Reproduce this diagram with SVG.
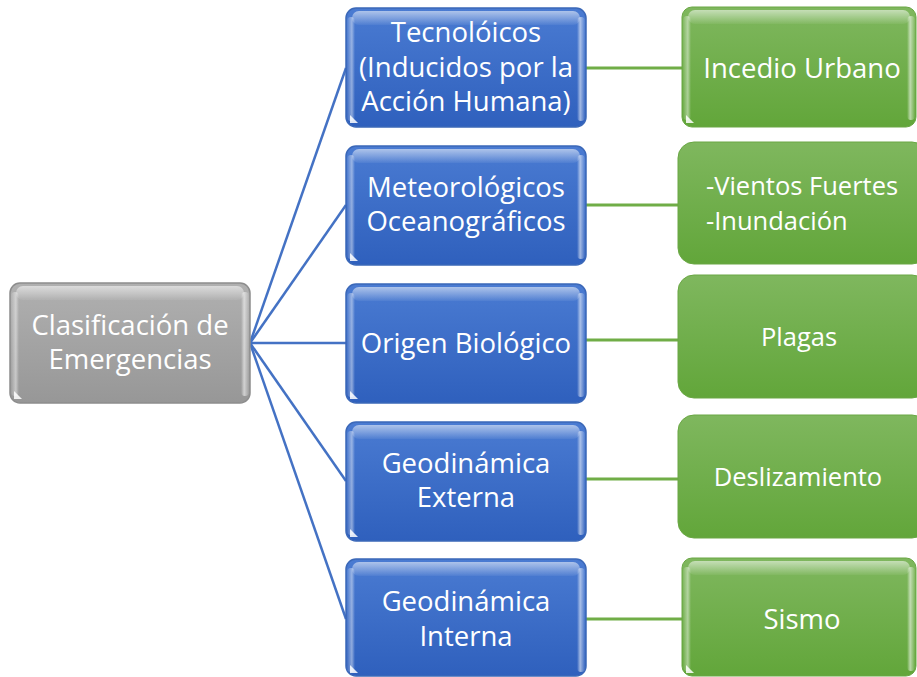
<svg xmlns="http://www.w3.org/2000/svg" width="917" height="677" viewBox="0 0 917 677">
<defs>
<linearGradient id="gBlue" x1="0" y1="0" x2="0" y2="1">
<stop offset="0" stop-color="#4a7bd2"/><stop offset="1" stop-color="#2f60bd"/>
</linearGradient>
<linearGradient id="gGray" x1="0" y1="0" x2="0" y2="1">
<stop offset="0" stop-color="#b0b0b0"/><stop offset="1" stop-color="#979797"/>
</linearGradient>
<linearGradient id="gGreen" x1="0" y1="0" x2="0" y2="1">
<stop offset="0" stop-color="#7fb75e"/><stop offset="1" stop-color="#62a63a"/>
</linearGradient>
<linearGradient id="gShine" x1="0" y1="0" x2="0" y2="1">
<stop offset="0" stop-color="#ffffff" stop-opacity="0.55"/><stop offset="1" stop-color="#ffffff" stop-opacity="0.05"/>
</linearGradient>
<linearGradient id="gEdgeL" x1="0" y1="0" x2="1" y2="0">
<stop offset="0" stop-color="#ffffff" stop-opacity="0.05"/><stop offset="0.6" stop-color="#ffffff" stop-opacity="0.45"/><stop offset="1" stop-color="#ffffff" stop-opacity="0"/>
</linearGradient>
<linearGradient id="gEdgeR" x1="1" y1="0" x2="0" y2="0">
<stop offset="0" stop-color="#ffffff" stop-opacity="0.05"/><stop offset="0.6" stop-color="#ffffff" stop-opacity="0.55"/><stop offset="1" stop-color="#ffffff" stop-opacity="0"/>
</linearGradient>
</defs>
<style>
.t{font-family:"Open Sans","Noto Sans","DejaVu Sans",sans-serif;font-size:27.5px;fill:#ffffff;text-anchor:middle}
.ts{font-family:"Open Sans","Noto Sans","DejaVu Sans",sans-serif;font-size:25.5px;fill:#ffffff;text-anchor:middle}
.tl{font-family:"Open Sans","Noto Sans","DejaVu Sans",sans-serif;font-size:25.5px;fill:#ffffff}
.blue{fill:url(#gBlue);stroke:#3b68b8;stroke-width:1.5}
.gray{fill:url(#gGray);stroke:#8d8d8d;stroke-width:1.5}
.green{fill:url(#gGreen);stroke:#6aa744;stroke-width:1}
.shine{fill:url(#gShine)}
.el{fill:url(#gEdgeL)}
.er{fill:url(#gEdgeR)}
.tri{fill:#ffffff;opacity:0.85}
.cb{stroke:#4472c4;stroke-width:2.5;fill:none}
.cg{stroke:#70ad47;stroke-width:3;fill:none}
</style>
<g id="connectors">
<line class="cb" x1="250" y1="343" x2="346" y2="68"/>
<line class="cb" x1="250" y1="343" x2="346" y2="205"/>
<line class="cb" x1="250" y1="343" x2="346" y2="343"/>
<line class="cb" x1="250" y1="343" x2="346" y2="481"/>
<line class="cb" x1="250" y1="343" x2="346" y2="619"/>
<line class="cg" x1="586" y1="68" x2="682" y2="68"/>
<line class="cg" x1="586" y1="205" x2="678" y2="205"/>
<line class="cg" x1="586" y1="340" x2="678" y2="340"/>
<line class="cg" x1="586" y1="479" x2="678" y2="479"/>
<line class="cg" x1="586" y1="619" x2="682" y2="619"/>
</g>
<g id="root">
<rect class="gray" x="10" y="283" width="240" height="120" rx="10"/>
<rect class="shine" x="16" y="286" width="228" height="14" rx="7"/>
<rect class="el" x="11" y="292" width="8" height="104" rx="4"/>
<rect class="er" x="241" y="292" width="8" height="104" rx="4"/>
<path class="tri" d="M14 399 L14 391 L22 399 Z"/>
<text class="t" x="130" y="335">Clasificación de</text>
<text class="t" x="130" y="369">Emergencias</text>
</g>
<g id="n1">
<rect class="blue" x="346" y="8" width="240" height="119" rx="10"/>
<rect class="shine" x="352" y="11" width="228" height="14" rx="7"/>
<rect class="el" x="347" y="17" width="8" height="104" rx="4"/>
<rect class="er" x="577" y="17" width="8" height="104" rx="4"/>
<path class="tri" d="M350 123 L350 115 L358 123 Z"/>
<text class="t" x="466" y="42">Tecnolóicos</text>
<text class="t" x="466" y="77">(Inducidos por la</text>
<text class="t" x="466" y="111">Acción Humana)</text>
</g>
<g id="n2">
<rect class="blue" x="346" y="146" width="240" height="119" rx="10"/>
<rect class="shine" x="352" y="149" width="228" height="14" rx="7"/>
<rect class="el" x="347" y="155" width="8" height="104" rx="4"/>
<rect class="er" x="577" y="155" width="8" height="104" rx="4"/>
<path class="tri" d="M350 261 L350 253 L358 261 Z"/>
<text class="t" x="466" y="197">Meteorológicos</text>
<text class="t" x="466" y="231">Oceanográficos</text>
</g>
<g id="n3">
<rect class="blue" x="346" y="284" width="240" height="119" rx="10"/>
<rect class="shine" x="352" y="287" width="228" height="14" rx="7"/>
<rect class="el" x="347" y="293" width="8" height="104" rx="4"/>
<rect class="er" x="577" y="293" width="8" height="104" rx="4"/>
<path class="tri" d="M350 399 L350 391 L358 399 Z"/>
<text class="t" x="466" y="353">Origen Biológico</text>
</g>
<g id="n4">
<rect class="blue" x="346" y="422" width="240" height="119" rx="10"/>
<rect class="shine" x="352" y="425" width="228" height="14" rx="7"/>
<rect class="el" x="347" y="431" width="8" height="104" rx="4"/>
<rect class="er" x="577" y="431" width="8" height="104" rx="4"/>
<path class="tri" d="M350 537 L350 529 L358 537 Z"/>
<text class="t" x="466" y="473">Geodinámica</text>
<text class="t" x="466" y="507">Externa</text>
</g>
<g id="n5">
<rect class="blue" x="346" y="559" width="240" height="117" rx="10"/>
<rect class="shine" x="352" y="562" width="228" height="14" rx="7"/>
<rect class="el" x="347" y="568" width="8" height="104" rx="4"/>
<rect class="er" x="577" y="568" width="8" height="104" rx="4"/>
<path class="tri" d="M350 673 L350 665 L358 673 Z"/>
<text class="t" x="466" y="611">Geodinámica</text>
<text class="t" x="466" y="646">Interna</text>
</g>
<g id="g1">
<rect class="green" x="682" y="7" width="234" height="120" rx="10"/>
<rect class="shine" x="688" y="10" width="222" height="14" rx="7"/>
<rect class="el" x="683" y="16" width="8" height="104" rx="4"/>
<rect class="er" x="907" y="16" width="8" height="104" rx="4"/>
<path class="tri" d="M686 123 L686 115 L694 123 Z"/>
<text class="t" x="802" y="78">Incedio Urbano</text>
</g>
<g id="g2">
<rect class="green" x="678" y="142" width="250" height="122" rx="16"/>
<text class="tl" x="706" y="195">-Vientos Fuertes</text>
<text class="tl" x="706" y="230">-Inundación</text>
</g>
<g id="g3">
<rect class="green" x="678" y="275" width="250" height="123" rx="16"/>
<text class="ts" x="799" y="346">Plagas</text>
</g>
<g id="g4">
<rect class="green" x="678" y="415" width="250" height="123" rx="16"/>
<text class="ts" x="798" y="486">Deslizamiento</text>
</g>
<g id="g5">
<rect class="green" x="682" y="558" width="234" height="118" rx="10"/>
<rect class="shine" x="688" y="561" width="222" height="14" rx="7"/>
<rect class="el" x="683" y="567" width="8" height="104" rx="4"/>
<rect class="er" x="907" y="567" width="8" height="104" rx="4"/>
<path class="tri" d="M686 673 L686 665 L694 673 Z"/>
<text class="t" x="802" y="629">Sismo</text>
</g>
</svg>
